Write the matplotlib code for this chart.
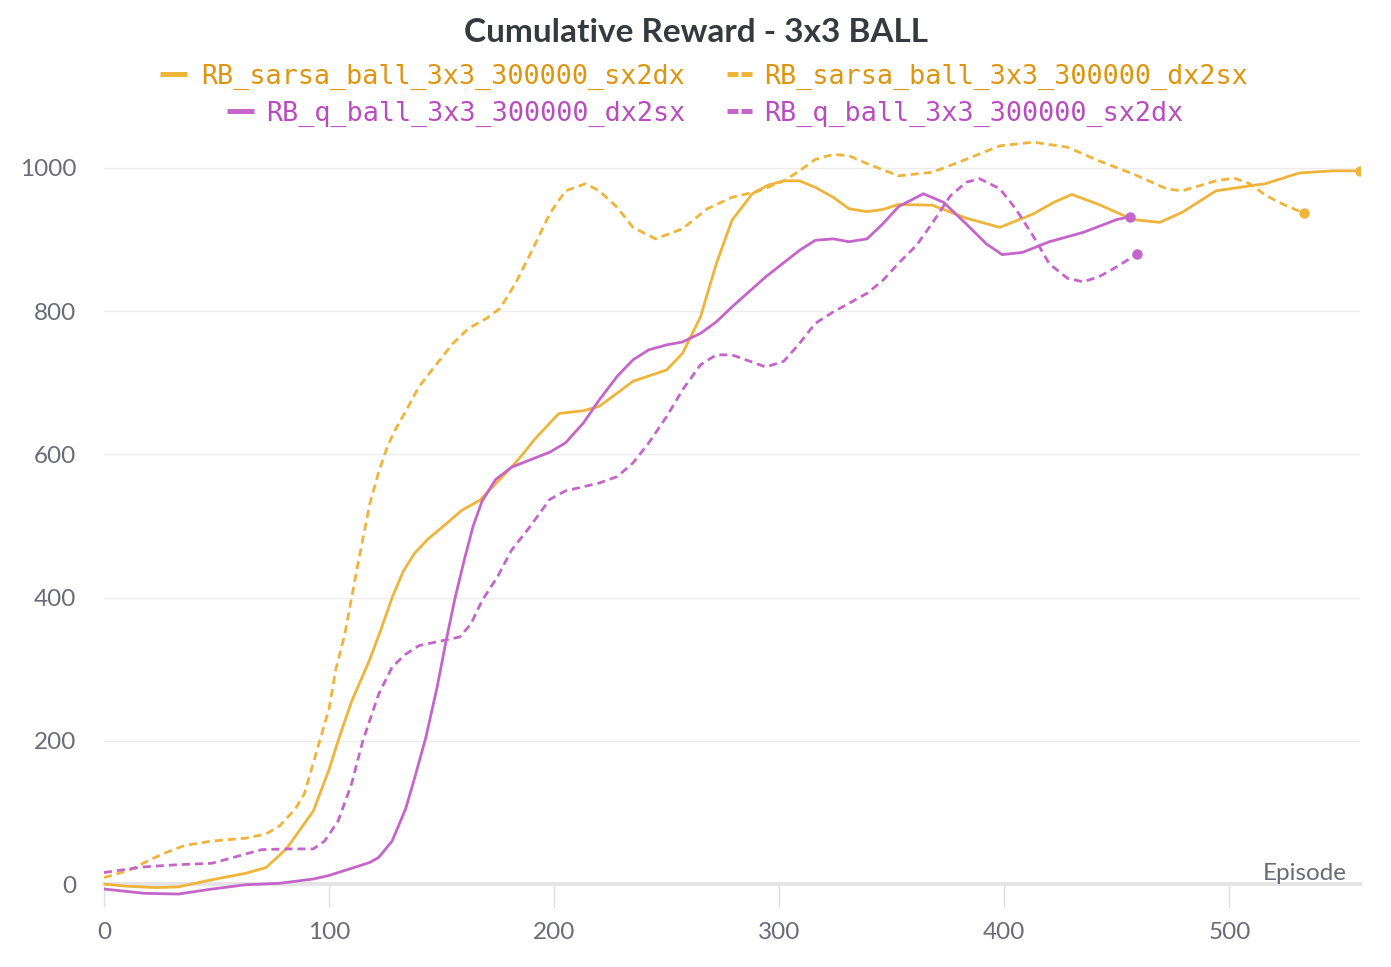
import matplotlib
matplotlib.use('Agg')
import matplotlib.pyplot as plt
from matplotlib.lines import Line2D

# ---- data (episode, cumulative reward) ----
sarsa_sx2dx_x = [0, 10, 23, 33, 48, 63, 72, 81, 93, 100, 104, 110, 118, 123, 128, 133, 138, 144,
                 152, 159, 167, 174, 181, 186, 191, 202, 213, 220, 235, 250, 257, 265, 272, 279,
                 288, 295, 302, 309, 316, 324, 331, 339, 346, 353, 368, 383, 398, 413, 422, 430,
                 442, 457, 469, 479, 494, 509, 516, 531, 546, 558]
sarsa_sx2dx_y = [0, -3, -5, -4, 6, 15, 23, 49, 102, 160, 200, 255, 313, 355, 400, 437, 462, 482,
                 503, 522, 536, 559, 582, 600, 620, 657, 661, 667, 702, 718, 741, 792, 866, 927,
                 964, 976, 982, 982, 973, 959, 943, 939, 942, 949, 948, 930, 917, 936, 952, 963,
                 949, 928, 924, 938, 968, 975, 978, 993, 996, 996]

sarsa_dx2sx_x = [0, 11, 18, 26, 36, 48, 63, 72, 78, 85, 89, 95, 100, 103, 107, 110, 113, 118,
                 122, 126, 130, 134, 140, 148, 155, 162, 170, 176, 183, 191, 198, 205, 214, 220,
                 228, 235, 245, 257, 268, 279, 291, 302, 309, 316, 324, 331, 339, 353, 368, 383,
                 398, 413, 428, 442, 457, 472, 479, 494, 502, 509, 516, 524, 533]
sarsa_dx2sx_y = [9, 19, 30, 42, 54, 60, 64, 70, 81, 105, 126, 191, 245, 300, 349, 400, 450, 530,
                 575, 612, 638, 660, 695, 727, 755, 776, 790, 804, 840, 890, 936, 968, 978, 968,
                 945, 917, 901, 915, 943, 959, 968, 982, 996, 1012, 1019, 1017, 1006, 989, 994, 1012,
                 1031, 1036, 1029, 1010, 992, 971, 968, 982, 986, 978, 962, 949, 937]

q_dx2sx_x = [0, 18, 33, 48, 63, 78, 93, 100, 107, 118, 122, 128, 134, 138, 143, 148, 152, 156,
             160, 164, 168, 174, 181, 189, 198, 205, 213, 220, 228, 235, 242, 250, 257, 265, 272,
             279, 294, 309, 316, 324, 331, 339, 346, 353, 364, 373, 383, 392, 399, 408, 420, 435,
             450, 456]
q_dx2sx_y = [-7, -13, -14, -7, -1, 1, 7, 12, 19, 30, 37, 60, 105, 148, 205, 275, 340, 400,
             452, 500, 535, 565, 582, 592, 603, 616, 644, 676, 709, 732, 746, 753, 757, 769, 785,
             806, 848, 885, 899, 901, 897, 901, 922, 946, 964, 952, 922, 894, 879, 882, 897, 910,
             928, 932]

q_sx2dx_x = [0, 11, 18, 33, 48, 55, 63, 70, 81, 93, 98, 104, 110, 115, 122, 128, 134, 140,
             149, 158, 163, 168, 175, 181, 189, 198, 205, 220, 228, 235, 242, 250, 257, 265, 272,
             279, 287, 294, 302, 309, 316, 324, 331, 339, 346, 353, 361, 368, 376, 383, 389, 398,
             405, 413, 420, 428, 435, 442, 450, 459]
q_sx2dx_y = [16, 21, 24, 27, 29, 35, 42, 48, 49, 49, 60, 88, 140, 200, 265, 303, 321, 333,
             339, 345, 363, 396, 430, 466, 498, 537, 549, 560, 569, 588, 616, 653, 690, 725, 739,
             739, 730, 722, 730, 755, 783, 799, 811, 825, 843, 867, 892, 923, 961, 980, 985, 971,
             943, 904, 866, 846, 841, 848, 862, 880]

run_names = ['RB_sarsa_ball_3x3_300000_sx2dx', 'RB_sarsa_ball_3x3_300000_dx2sx',
             'RB_q_ball_3x3_300000_dx2sx', 'RB_q_ball_3x3_300000_sx2dx']
x_ticks = [0, 100, 200, 300, 400, 500]
y_ticks = [0, 200, 400, 600, 800, 1000]

ORANGE = '#efb43a'
PURPLE = '#c565c9'
ORANGE_TXT = '#df940c'
PURPLE_TXT = '#b94cbe'
LABEL_GRAY = '#6b6b78'

W, H = 1391, 967
fig = plt.figure(figsize=(W / 100, H / 100), dpi=100)
ax = fig.add_axes([104 / W, 1 - 905.5 / H, (1360 - 104) / W, (905.5 - 125) / H])

series = [
    (sarsa_sx2dx_x, sarsa_sx2dx_y, ORANGE, '-'),
    (sarsa_dx2sx_x, sarsa_dx2sx_y, ORANGE, '--'),
    (q_dx2sx_x, q_dx2sx_y, PURPLE, '-'),
    (q_sx2dx_x, q_sx2dx_y, PURPLE, '--'),
]
for xs, ys, col, ls in series:
    ln, = ax.plot(xs, ys, color=col, lw=2.0, zorder=3, solid_joinstyle='round')
    if ls == '--':
        ln.set_dashes((2.9, 1.8))
    ax.plot(xs[-1], ys[-1], 'o', color=col, ms=7.5, mec='none', zorder=4)

ax.set_xlim(0, 558)
ax.set_ylim(-30, 1060)
ax.set_xticks(x_ticks)
ax.set_yticks(y_ticks)

for s in ['top', 'right', 'left']:
    ax.spines[s].set_visible(False)
ax.spines['bottom'].set_position(('data', 0))
ax.spines['bottom'].set_color('#e4e4e6')
ax.spines['bottom'].set_linewidth(2.8)
ax.spines['bottom'].set_zorder(2)

ax.grid(axis='y', color='#ececee', lw=0.9, zorder=0)
ax.tick_params(axis='x', direction='out', length=16.5, width=1.0, color='#e0e0e2',
               pad=11, labelsize=17.5, labelcolor=LABEL_GRAY)
ax.tick_params(axis='y', length=0, pad=20, labelsize=17.5, labelcolor=LABEL_GRAY)
for lab in ax.get_xticklabels() + ax.get_yticklabels():
    lab.set_family('Lato')

ax.annotate('Episode', xy=(1, 0), xycoords=('axes fraction', 'data'),
            xytext=(-13, 4), textcoords='offset pixels', ha='right', va='baseline',
            fontsize=17.5, color=LABEL_GRAY, family='Lato')

# title
fig.text(0.5, 1 - 33 / H, 'Cumulative Reward - 3x3 BALL', ha='center', va='center',
         fontsize=24, fontweight='bold', color='#363a3e', family='Lato')

# legend drawn by hand (centred, two rows)
leg_font = dict(family='DejaVu Sans Mono', fontsize=19.3, va='center')
rows = [(77, 0, 1, (160, 187), (727, 754)), (114, 2, 3, (227, 254), (727, 754))]
for ypx, i_solid, i_dash, h1, h2 in rows:
    yf = 1 - ypx / H
    c1 = ORANGE if i_solid < 2 else PURPLE
    t1 = ORANGE_TXT if i_solid < 2 else PURPLE_TXT
    fig.text(685 / W, yf, run_names[i_solid], ha='right', color=t1, **leg_font)
    fig.text(764 / W, yf, run_names[i_dash], ha='left', color=t1, **leg_font)
    hy = 1 - (ypx - 3) / H
    fig.add_artist(Line2D([h1[0] / W, h1[1] / W], [hy, hy], color=c1, lw=3.6,
                          solid_capstyle='butt'))
    dl = Line2D([h2[0] / W, h2[1] / W], [hy, hy], color=c1, lw=3.6, dash_capstyle='butt')
    dl.set_dashes((2.2, 0.6))
    fig.add_artist(dl)

fig.savefig('out.png', dpi=100)
